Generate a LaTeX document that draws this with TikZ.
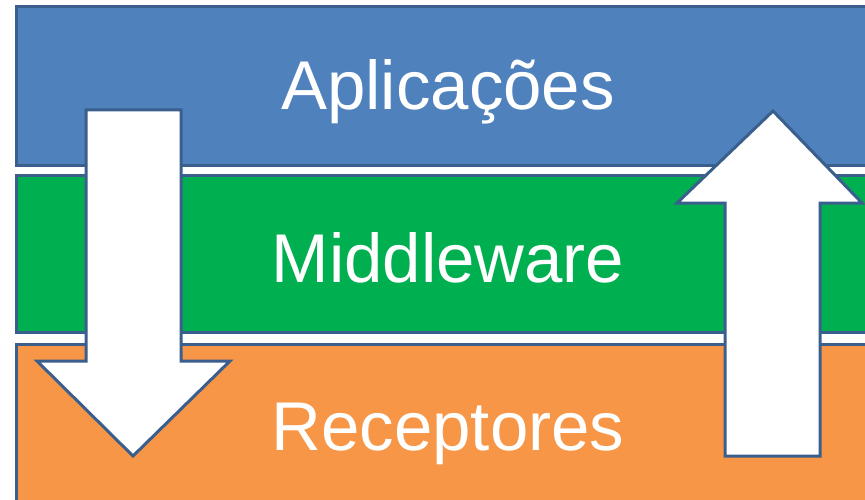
\documentclass[tikz,border=0pt]{standalone}
\usepackage{fontspec}
\setmainfont{Liberation Sans}
\definecolor{layerblue}{HTML}{4F81BD}
\definecolor{layergreen}{HTML}{00B050}
\definecolor{layerorange}{HTML}{F79646}
\definecolor{edgeblue}{HTML}{3A5F8C}
\begin{document}
\begin{tikzpicture}[x=1pt, y=1pt,
    layer/.style={draw=edgeblue, line width=3pt},
    flow/.style={draw=edgeblue, fill=white, line width=3pt, line join=miter},
    label/.style={text=white, anchor=base, inner sep=0pt,
        font=\fontsize{69}{80}\selectfont}]
        \useasboundingbox (0, 0) rectangle (865, 499);
        \clip (0, 0) rectangle (865, 499);

        %%draw the layers
        \draw[layer, fill=layerblue] (16, 492) rectangle (885, 333);
        \draw[layer, fill=layergreen] (16, 323) rectangle (885, 167);
        \draw[layer, fill=layerorange] (16, 155) rectangle (885, -20);

        \node[label] (apps) at (448, 389){Aplicações};
        \node[label] (mid) at (448, 217){Middleware};
        \node[label] (rec) at (448, 49){Receptores};

        %%draw the arrows
        \draw[flow] (86, 389) -- (181, 389) -- (181, 138) -- (230, 138)
            -- (133, 43) -- (37, 138) -- (86, 138) -- cycle;
        \draw[flow] (725, 43) -- (820, 43) -- (820, 296) -- (862, 296)
            -- (773, 388) -- (677, 296) -- (725, 296) -- cycle;

    \end{tikzpicture}
\end{document}
